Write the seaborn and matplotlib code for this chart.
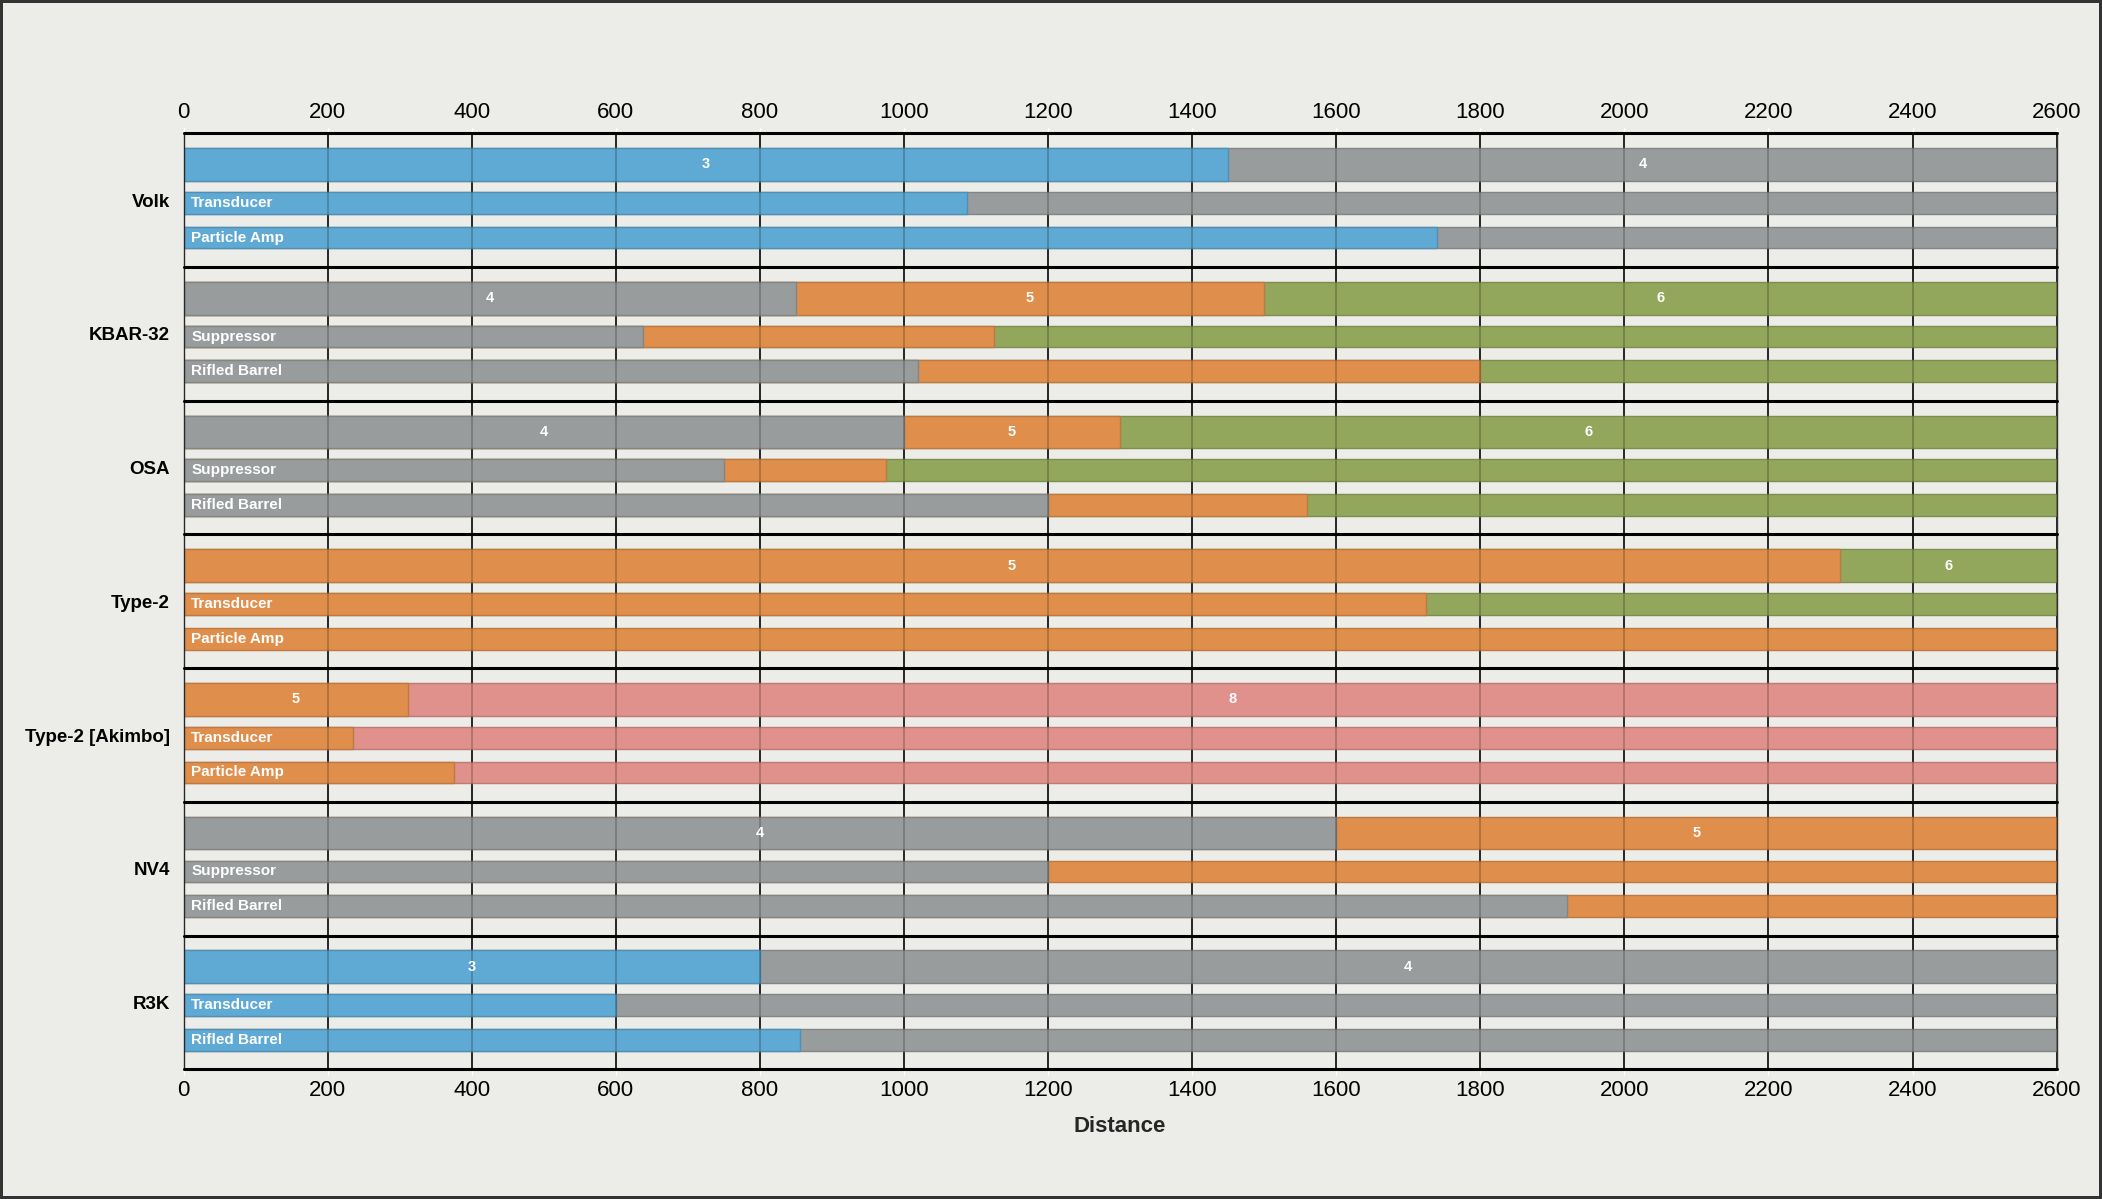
import numpy as np
import pandas as pd
import matplotlib
matplotlib.use("Agg")
import matplotlib.pyplot as plt
import matplotlib.transforms as mtransforms
import seaborn as sns

# ---------------- data ----------------
weapons = ["Volk", "KBAR-32", "OSA", "Type-2", "Type-2 [Akimbo]", "NV4", "R3K"]
max_range = 2600

# base weapon: shots-to-kill per band and band break distances
base_shots = [[3, 4], [4, 5, 6], [4, 5, 6], [5, 6], [5, 8], [4, 5], [3, 4]]
base_breaks = [[1450], [850, 1500], [1000, 1300], [2300], [312], [1600], [800]]

# first attachment row
att1_names = ["Transducer", "Suppressor", "Suppressor", "Transducer", "Transducer", "Suppressor", "Transducer"]
att1_shots = [[3, 4], [4, 5, 6], [4, 5, 6], [5, 6], [5, 8], [4, 5], [3, 4]]
att1_breaks = [[1088], [638, 1125], [750, 975], [1725], [235], [1200], [600]]

# second attachment row
att2_names = ["Particle Amp", "Rifled Barrel", "Rifled Barrel", "Particle Amp", "Particle Amp", "Rifled Barrel", "Rifled Barrel"]
att2_shots = [[3, 4], [4, 5, 6], [4, 5, 6], [5], [5, 8], [4, 5], [3, 4]]
att2_breaks = [[1740], [1020, 1800], [1200, 1560], [], [375], [1920], [856]]

shot_colors = {3: "#5fa9d5", 4: "#999c9d", 5: "#e08e4b", 6: "#92a65c", 8: "#e0918b"}

# ---------------- style ----------------
bg = "#ecece8"
sns.set_theme(style="white", rc={"figure.facecolor": bg, "axes.facecolor": bg})
plt.rcParams["font.family"] = ["Liberation Sans", "DejaVu Sans"]

fig = plt.figure(figsize=(21.02, 11.99), dpi=100, facecolor=bg,
                 edgecolor="#333333", linewidth=4)
ax = fig.add_axes([0.0874, 0.1082, 0.8910, 0.7806])
ax.set_facecolor(bg)

# row layout inside each group (fraction of group height)
row_offsets = [0.233, 0.52, 0.78]
row_heights = [0.245, 0.162, 0.162]


def darker(c, f=0.85):
    r, g, b = matplotlib.colors.to_rgb(c)
    return (r * f, g * f, b * f)


def draw_row(yc, h, shots, breaks, label_numbers):
    ends = list(breaks) + [max_range]
    starts = [0] + list(breaks)
    # overdraw cumulative bars, longest first
    for s, e in reversed(list(zip(shots, ends))):
        df = pd.DataFrame({"dist": [e], "pos": [yc]})
        sns.barplot(data=df, x="dist", y="pos", orient="y", native_scale=True,
                    width=h, color=shot_colors[s], saturation=1, errorbar=None,
                    edgecolor=darker(shot_colors[s]), linewidth=1.0, ax=ax, zorder=2)
    if label_numbers:
        for s, a, e in zip(shots, starts, ends):
            ax.text((a + e) / 2, yc, str(s), color="white", fontsize=10.5,
                    fontweight="bold", ha="center", va="center", zorder=5)


for i, w in enumerate(weapons):
    draw_row(i + row_offsets[0], row_heights[0], base_shots[i], base_breaks[i], True)
    draw_row(i + row_offsets[1], row_heights[1], att1_shots[i], att1_breaks[i], False)
    draw_row(i + row_offsets[2], row_heights[2], att2_shots[i], att2_breaks[i], False)

# attachment labels inside bars
off = mtransforms.offset_copy(ax.transData, fig=fig, x=7.5, y=0, units="dots")
for i in range(len(weapons)):
    for name, k in ((att1_names[i], 1), (att2_names[i], 2)):
        ax.text(0, i + row_offsets[k], name, transform=off, color="white",
                fontsize=11, fontweight="bold", ha="left", va="center", zorder=5)

# axes
ax.set_xlim(0, max_range)
ax.set_ylim(len(weapons), 0)
xt = np.arange(0, max_range + 1, 200)
ax.set_xticks(xt)
ax.set_xticklabels([str(v) for v in xt])
ax.set_yticks(np.arange(len(weapons)) + 0.5)
ax.set_yticklabels(weapons, fontsize=13.5, fontweight="bold")
ax.set_ylabel("")
ax.set_xlabel("Distance", fontsize=16, fontweight="bold", labelpad=11)

# grid lines: black below bars, translucent above bars (bars look see-through)
ax.set_axisbelow(True)
ax.grid(axis="x", color="#222222", linewidth=1.3, zorder=0)
ax.grid(axis="y", visible=False)
ax.vlines(xt, 0, len(weapons), colors="black", linewidth=1.3, alpha=0.22, zorder=3)

# group separators
for yv in range(len(weapons) + 1):
    ax.axhline(yv, color="black", linewidth=2.2, zorder=4, clip_on=False)

ax.tick_params(axis="x", which="both", top=True, labeltop=True, bottom=True,
               labelbottom=True, direction="out", length=4.5, width=1,
               color="white", labelsize=16, pad=3, labelcolor="black")
ax.tick_params(axis="y", length=0, pad=10, labelcolor="black")

for side in ("left", "right"):
    ax.spines[side].set_visible(True)
    ax.spines[side].set_color("#333333")
    ax.spines[side].set_linewidth(1.0)
for side in ("top", "bottom"):
    ax.spines[side].set_visible(False)

fig.savefig("out.png", dpi=100, facecolor=bg, edgecolor="#333333")
